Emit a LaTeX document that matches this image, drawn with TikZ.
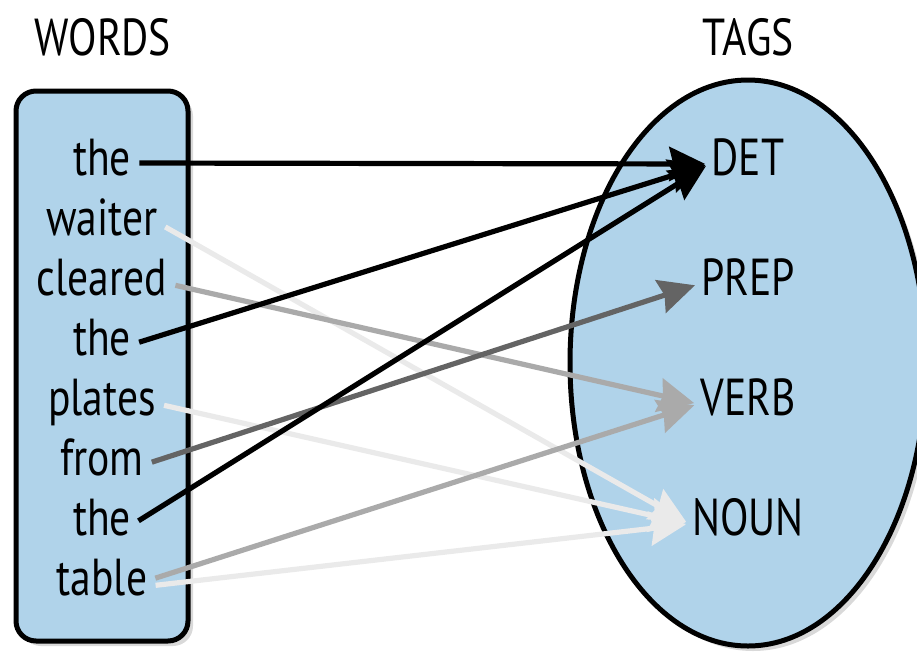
\documentclass[tikz,border=0pt]{standalone}
\usepackage{fontspec}
\setmainfont{PT Sans}[FakeStretch=0.8]
\usetikzlibrary{arrows.meta, shapes.geometric, shadows}
\definecolor{tagblue}{RGB}{176,211,234}
\definecolor{verbgray}{RGB}{170,170,170}
\definecolor{noungray}{RGB}{234,234,234}
\definecolor{prepgray}{RGB}{100,100,100}

\begin{document}
\begin{tikzpicture}[x=0.5pt, y=-0.5pt, >={Stealth[length=18pt,width=17pt,inset=2pt]}]
    \tikzstyle{every node}=[font=\fontsize{26}{30}\selectfont]
    \tikzstyle{panel}=[draw=black, line width=2.5pt, fill=tagblue, drop shadow={opacity=0.3, shadow xshift=2.5pt, shadow yshift=-2.5pt}]
    \tikzstyle{word}=[anchor=base, inner sep=1pt]
    \tikzstyle{tag}=[anchor=base, inner sep=1pt]
    \tikzstyle{link}=[->, line width=2.6pt, shorten <=3pt, shorten >=2pt]

    \useasboundingbox (0,0) rectangle (917,655);

    % Draw the two panels
    \node[panel, rectangle, rounded corners=10pt, minimum width=86pt, minimum height=275pt, inner sep=0pt] (words) at (102,366) {};
    \node[panel, ellipse, minimum width=178pt, minimum height=283pt, inner sep=0pt] (tags) at (748,363) {};

    % Headings
    \node[word] (words-title) at (103,55) {WORDS};
    \node[tag] (tags-title) at (748,55) {TAGS};

    % Draw the words
    \foreach \name / \word / \y in {1/the/175, 2/waiter/235, 3/cleared/295, 4/the/355, 5/plates/415, 6/from/475, 7/the/535, 8/table/595}
        \node[word] (W-\name) at (102,\y) {\word};

    % Draw the tags
    \foreach \name / \y in {DET/175, PREP/295, VERB/415, NOUN/535}
        \node[tag] (T-\name) at (748,\y) {\name};

    % Connect every word with its tag
    \foreach \source / \dest / \shade / \lift in {2/NOUN/noungray/3, 5/NOUN/noungray/3, 8/NOUN/noungray/2,
                                                 3/VERB/verbgray/3, 8/VERB/verbgray/5, 6/PREP/prepgray/3,
                                                 1/DET/black/3.5, 4/DET/black/3, 7/DET/black/3}
        \draw[link, draw=\shade] ([yshift=\lift pt]W-\source.mid east) -- ([yshift=3pt]T-\dest.mid west);

\end{tikzpicture}
\end{document}
